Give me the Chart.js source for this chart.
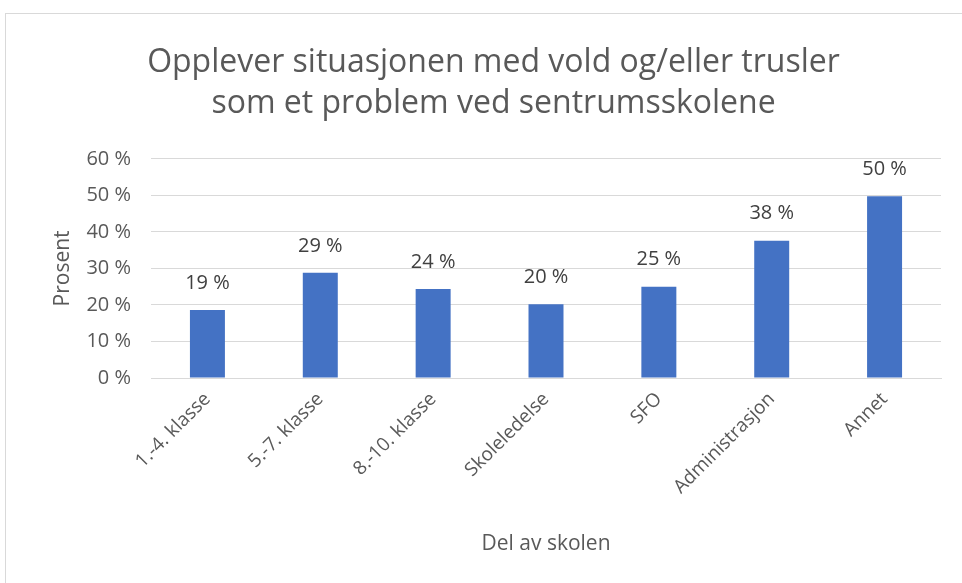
<!DOCTYPE html>
<html><head><meta charset="utf-8">
<script src="https://cdn.jsdelivr.net/npm/chart.js@4"></script>
<style>
html,body{margin:0;padding:0;background:#fff;overflow:hidden;width:962px;height:583px;}
#frame{position:absolute;left:5px;top:13px;width:970px;height:580px;border:1px solid #d9d9d9;background:#fff;}
#wrap{position:absolute;left:0;top:0;width:957px;height:570px;}
</style></head>
<body>
<div id="frame"><div id="wrap"><canvas id="c" width="957" height="570"></canvas></div></div>
<script>
const categories = ["1.-4. klasse","5.-7. klasse","8.-10. klasse","Skoleledelse","SFO","Administrasjon","Annet"];
const values = [18.6, 28.8, 24.4, 20.2, 25.0, 37.6, 49.8];
const titleLines = ["Opplever situasjonen med vold og/eller trusler","som et problem ved sentrumsskolene"];
const yTitle = "Prosent";
const xTitle = "Del av skolen";
const FONT = "'Open Sans', Lato, sans-serif";

const labelPlugin = {
  id:'barLabels',
  afterDatasetsDraw(chart){
    const ctx = chart.ctx;
    const meta = chart.getDatasetMeta(0);
    ctx.save();
    ctx.font = "20px " + FONT;
    ctx.fillStyle = "#404040";
    ctx.textAlign = "center";
    ctx.textBaseline = "middle";
    meta.data.forEach((bar,i)=>{
      ctx.fillText(Math.round(values[i]) + " %", bar.x, bar.y - 27);
    });
    ctx.restore();
  }
};

new Chart(document.getElementById('c'), {
  type:'bar',
  data:{labels:categories, datasets:[{data:values, backgroundColor:'#4472C4', barPercentage:0.62, categoryPercentage:0.5}]},
  options:{
    responsive:false, animation:false,
    layout:{padding:{left:40, right:22, top:0, bottom:14}},
    plugins:{
      legend:{display:false}, tooltip:{enabled:false},
      title:{display:true, text:titleLines, color:'#595959', font:{family:FONT, size:32, weight:'normal', lineHeight:1.28}, padding:{top:28, bottom:35}}
    },
    scales:{
      y:{min:0, max:60, ticks:{stepSize:10, color:'#595959', font:{family:FONT, size:20}, padding:20, callback:v=>v+" %"},
         grid:{color:'#d9d9d9', drawTicks:false}, border:{display:false},
         title:{display:true, text:yTitle, color:'#595959', font:{family:FONT, size:21}, padding:{top:4,bottom:0}},
         afterFit(s){ s.width = 105; }},
      x:{ticks:{color:'#595959', font:{family:FONT, size:19}, maxRotation:45, minRotation:45, padding:2},
         grid:{display:false}, border:{color:'#d9d9d9'},
         title:{display:true, text:xTitle, color:'#595959', font:{family:FONT, size:21}, padding:{top:0,bottom:13}},
         afterFit(s){ s.height = 192; }}
    }
  },
  plugins:[labelPlugin]
});
</script>
</body></html>
